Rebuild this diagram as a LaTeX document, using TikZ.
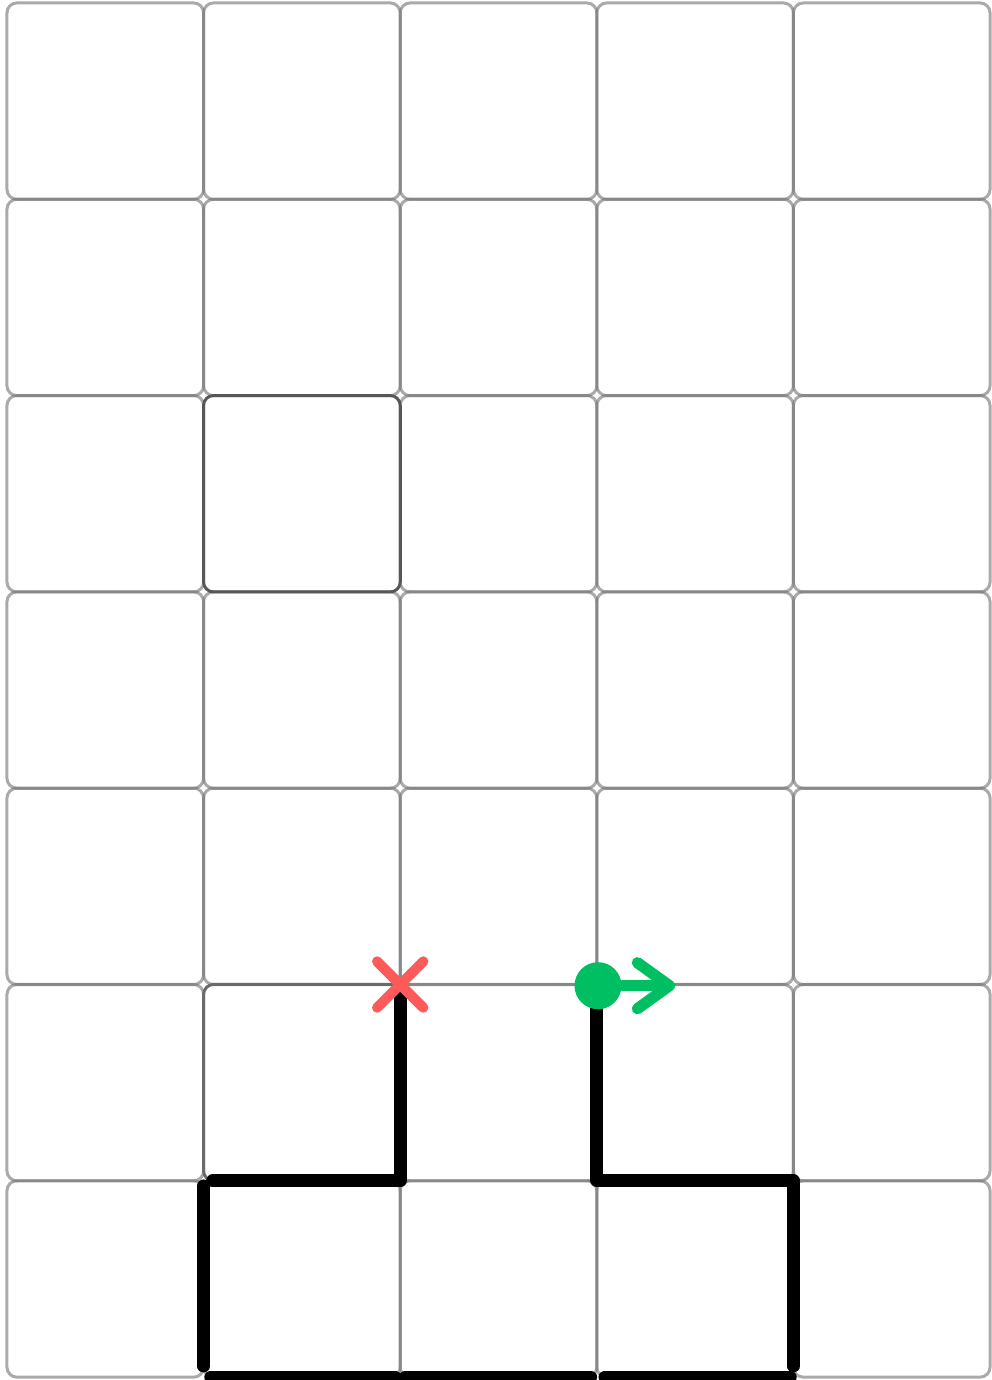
\documentclass[tikz,border=0pt]{standalone}
\usetikzlibrary{arrows.meta,shapes.misc}
\definecolor{cellgray}{HTML}{717171}
\definecolor{darkcell}{HTML}{575757}
\definecolor{midcell}{HTML}{6A6A6A}
\definecolor{xred}{HTML}{FF5A5A}
\definecolor{dotgreen}{HTML}{00BF63}
\tikzset{
  cell/.style={draw=cellgray, draw opacity=0.6, line width=0.85pt, rounded corners=0.1cm,
    minimum width=1.966cm, minimum height=1.963cm, inner sep=0pt, outer sep=0pt},
  wall/.style={line width=3.6pt, line cap=round, line join=round, black},
  stopmark/.style={cross out, draw=xred, line width=2.9pt, line cap=round, minimum size=0.36cm, inner sep=0pt},
  startmark/.style={circle, fill=dotgreen, minimum size=0.47cm, inner sep=0pt},
  heading/.style={dotgreen, line width=3.2pt, line cap=round,
    -{Straight Barb[round,length=0.32cm,width=0.46cm]}}
}
\begin{document}
\begin{tikzpicture}[x=0.01cm,y=-0.01cm]
\useasboundingbox (0,0) rectangle (992,1380);
% grid corner points
\foreach \i in {0,...,5}{\foreach \j in {0,...,7}{
  \coordinate (g-\i-\j) at ({7+196.6*\i},{3+196.3*\j});
}}
% cells
\foreach \c in {0,...,4}{\foreach \r in {0,...,6}{
  \pgfmathtruncatemacro\skipit{and(\c==1, or(\r==2,\r==5))}
  \ifnum\skipit=0
    \node[cell] (cell-\c-\r) at ({7+196.6*(\c+0.5)},{3+196.3*(\r+0.5)}) {};
  \fi
}}
\node[cell, draw=midcell, draw opacity=1] (cell-1-5) at ({7+196.6*1.5},{3+196.3*5.5}) {};
\node[cell, draw=darkcell, draw opacity=1] (cell-1-2) at ({7+196.6*1.5},{3+196.3*2.5}) {};
% walls
\draw[wall, shorten >=0.09cm] (g-2-5) -- (g-2-6) -- (g-1-6);
\draw[wall, shorten <=0.05cm, shorten >=0.11cm] (g-1-6) -- (g-1-7);
\draw[wall, shorten <=0.07cm, shorten >=0.05cm] (g-1-7) -- (g-2-7);
\draw[wall, shorten <=0.05cm, shorten >=0.06cm] (g-2-7) -- (g-3-7);
\draw[wall, shorten <=0.08cm, shorten >=0.03cm] (g-3-7) -- (g-4-7);
\draw[wall, shorten >=0.11cm] (g-3-5) -- (g-3-6) -- (g-4-6) -- (g-4-7);
% markers
\node[stopmark] (stop) at (g-2-5) {};
\node[startmark] (start) at ([xshift=0.012cm,yshift=-0.012cm]g-3-5) {};
\coordinate (facing) at ([xshift=0.77cm]start.center);
\draw[heading] (start) -- (facing);
\end{tikzpicture}
\end{document}
